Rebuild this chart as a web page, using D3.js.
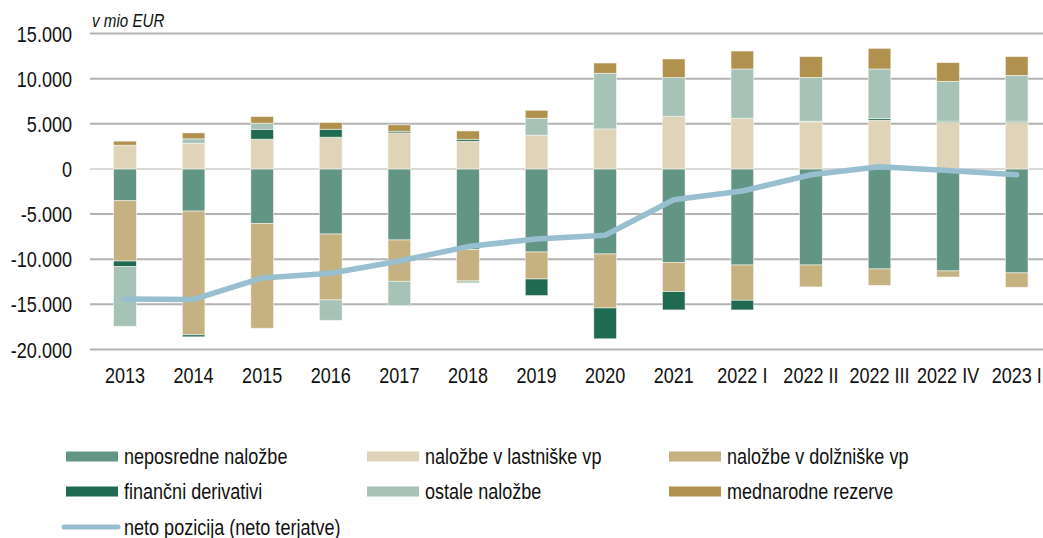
<!DOCTYPE html>
<html>
<head>
<meta charset="utf-8">
<script src="https://cdn.jsdelivr.net/npm/d3@7"></script>
<style>
  body { margin: 0; background: #fff; }
  svg text { font-family: "Liberation Sans Narrow", "Arial Narrow", "Liberation Sans", Arial, sans-serif; fill: #111; }
</style>
</head>
<body>
<svg id="chart" width="1043" height="538"></svg>
<script>
// Data
var categories = ["2013", "2014", "2015", "2016", "2017", "2018", "2019", "2020", "2021",
  "2022 I", "2022 II", "2022 III", "2022 IV", "2023 I"];
var neposredne = [-3530, -4670, -6030, -7210, -7870, -8950, -9200, -9420, -10340, -10640, -10640, -11080, -11300, -11520];
var lastniske = [2630, 2850, 3300, 3520, 3990, 3075, 3740, 4430, 5840, 5620, 5210, 5400, 5140, 5140];
var dolzniske = [-6670, -13710, -11610, -7300, -4570, -3460, -2990, -5980, -3250, -3900, -2430, -1810, -670, -1580];
var derivativi = [-630, -220, 1100, 880, 190, 220, -1840, -3420, -2030, -1080, 80, 180, 150, 150];
var ostale = [-6590, 480, 670, -2250, -2700, -220, 1880, 6170, 4280, 5450, 4860, 5490, 4420, 5080];
var rezerve = [450, 660, 730, 740, 700, 910, 880, 1130, 2060, 1990, 2290, 2290, 2070, 2070];
var neto = [-14400, -14450, -12080, -11560, -10200, -8600, -7750, -7350, -3420, -2450, -650, 250, -170, -650];
var yTicks = [-20000, -15000, -10000, -5000, 0, 5000, 10000, 15000];

var seriesNames = ["neposredne naložbe", "naložbe v lastniške vp", "naložbe v dolžniške vp",
  "finančni derivativi", "ostale naložbe", "mednarodne rezerve"];
var seriesValues = [neposredne, lastniske, dolzniske, derivativi, ostale, rezerve];
var colors = ["#629584", "#dfd4b7", "#c6b281", "#1f6a50", "#a7c3b8", "#b0914e"];
var lineName = "neto pozicija (neto terjatve)";
var lineColor = "#97bfcf";

// table for d3.stack
var table = categories.map(function(c, i) {
  var row = { cat: c };
  seriesNames.forEach(function(s, j) { row[s] = seriesValues[j][i]; });
  return row;
});

var svg = d3.select("#chart");

// no narrow font installed -> squeeze regular sans horizontally
var squeeze = 0.82;
function label(parent, tx, ty, str, size, anchor) {
  var g = parent.append("g")
    .attr("transform", "translate(" + tx + "," + ty + ") scale(" + squeeze + ",1)");
  return g.append("text")
    .attr("text-anchor", anchor || "start")
    .style("font-size", size + "px")
    .text(str);
}

var x = d3.scaleBand()
  .domain(categories)
  .range([90.7, 1051])
  .paddingInner(0.67)
  .paddingOuter(0.335);

var y = d3.scaleLinear()
  .domain([-20000, 15000])
  .range([349.5, 33.5]);

var fmt = function(d) {
  return d3.format(",")(d).replace(/,/g, ".").replace("−", "-");
};

// grid
svg.append("g")
  .selectAll("line")
  .data(yTicks)
  .enter()
  .append("line")
  .attr("x1", 90)
  .attr("x2", 1043)
  .attr("y1", function(d) { return y(d); })
  .attr("y2", function(d) { return y(d); })
  .attr("stroke", function(d) { return d === 0 ? "#d9d9d9" : "#b3b3b3"; })
  .attr("stroke-width", 2);

// y axis labels
var yLab = svg.append("g");
yTicks.forEach(function(d) {
  label(yLab, 72, y(d) + 8, fmt(d), 22, "end");
});

label(svg, 92, 27, "v mio EUR", 18.5).style("font-style", "italic");

// stacked bars
var stacked = d3.stack()
  .keys(seriesNames)
  .offset(d3.stackOffsetDiverging)(table);

svg.append("g")
  .selectAll("g")
  .data(stacked)
  .enter()
  .append("g")
  .attr("fill", function(d, i) { return colors[i]; })
  .selectAll("rect")
  .data(function(d) { return d; })
  .enter()
  .append("rect")
  .attr("x", function(d) { return x(d.data.cat); })
  .attr("width", x.bandwidth())
  .attr("y", function(d) { return y(Math.max(d[0], d[1])); })
  .attr("height", function(d) { return Math.abs(y(d[0]) - y(d[1])); })
  .attr("stroke", "#f4f4ee")
  .attr("stroke-width", 0.6);

// net position line
var line = d3.line()
  .x(function(d, i) { return x(categories[i]) + x.bandwidth() / 2; })
  .y(function(d) { return y(d); });

svg.append("path")
  .datum(neto)
  .attr("d", line)
  .attr("fill", "none")
  .attr("stroke", lineColor)
  .attr("stroke-width", 5.5)
  .attr("stroke-linejoin", "round")
  .attr("stroke-linecap", "round");

// x labels
var xLab = svg.append("g");
categories.forEach(function(c) {
  label(xLab, x(c) + x.bandwidth() / 2, 383, c, 22, "middle");
});

// legend
var legendX = [66, 367, 669];
var legendY = [456.5, 491.5];
var legend = svg.append("g");

seriesNames.forEach(function(s, i) {
  var col = i % 3;
  var row = Math.floor(i / 3);
  legend.append("rect")
    .attr("x", legendX[col])
    .attr("y", legendY[row] - 5)
    .attr("width", 52)
    .attr("height", 10)
    .attr("fill", colors[i]);
  label(legend, legendX[col] + 58, legendY[row] + 7.5, s, 22);
});

legend.append("line")
  .attr("x1", 64)
  .attr("x2", 118)
  .attr("y1", 527)
  .attr("y2", 527)
  .attr("stroke", lineColor)
  .attr("stroke-width", 5)
  .attr("stroke-linecap", "round");
label(legend, 124, 534.5, lineName, 22);
</script>
</body>
</html>
